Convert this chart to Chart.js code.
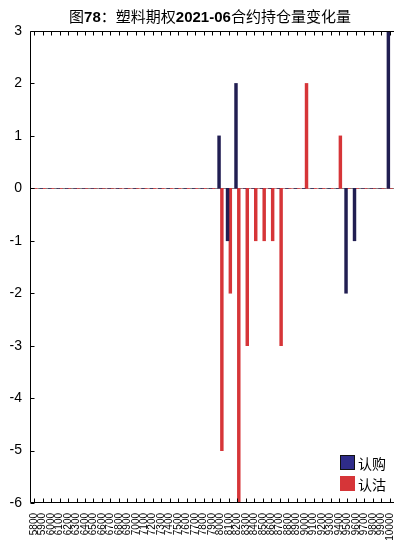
<!DOCTYPE html>
<html>
<head>
<meta charset="utf-8">
<script src="https://cdn.jsdelivr.net/npm/chart.js"></script>
<style>
  body { margin: 0; background: #fff; }
  #wrap { position: relative; width: 396px; height: 540px; }
  #title { position: absolute; left: 12px; top: 6px; width: 396px; text-align: center;
    font: 15px "Noto Sans CJK SC", sans-serif; line-height: 20px; color: #000; }
  #title b { font-family: "Liberation Sans", Arial, sans-serif; font-weight: bold; }
  #legend { position: absolute; left: 340px; top: 455px; font: 14px "Noto Sans CJK SC", sans-serif; color: #000; }
  #legend div { height: 21px; line-height: 16px; }
  #legend span.box { display: inline-block; width: 15px; height: 15px; vertical-align: top; margin-right: 3px; box-sizing: border-box; }
</style>
</head>
<body>
<div id="wrap">
  <canvas id="optChart" width="396" height="540"></canvas>
  <div id="title">图<b>78</b>：塑料期权<b>2021-06</b>合约持仓量变化量</div>
  <div id="legend">
    <div><span class="box" style="background:#2f2c8a;border:1px solid #111;"></span>认购</div>
    <div><span class="box" style="background:#d63538;"></span>认沽</div>
  </div>
</div>
<script>
var strikes = [];
for (var k = 5800; k <= 10000; k += 100) strikes.push(String(k));

// non-zero changes, by strike
var callChange = { '8000': 1, '8100': -1, '8200': 2, '9500': -2, '9600': -1, '10000': 3 };
var putChange = { '8000': -5, '8100': -2, '8200': -6, '8300': -3, '8400': -1, '8500': -1,
                  '8600': -1, '8700': -3, '9000': 2, '9400': 1 };

var callData = strikes.map(function(s){ return callChange[s] || 0; });
var putData = strikes.map(function(s){ return putChange[s] || 0; });

var yTicks = [-6, -5, -4, -3, -2, -1, 0, 1, 2, 3];

var framePlugin = {
  id: 'frame',
  beforeDatasetsDraw: function(chart) {
    var ctx = chart.ctx, a = chart.chartArea, y = chart.scales.y;
    var y0 = Math.round(y.getPixelForValue(0)) + 0.5;
    ctx.save();
    ctx.lineWidth = 1;
    ctx.setLineDash([4, 4]);
    ctx.strokeStyle = '#808080';
    ctx.beginPath(); ctx.moveTo(a.left, y0); ctx.lineTo(a.right, y0); ctx.stroke();
    ctx.lineDashOffset = 4;
    ctx.strokeStyle = '#c98a8a';
    ctx.beginPath(); ctx.moveTo(a.left, y0); ctx.lineTo(a.right, y0); ctx.stroke();
    ctx.restore();
  },
  afterDraw: function(chart) {
    var ctx = chart.ctx, a = chart.chartArea, x = chart.scales.x, y = chart.scales.y;
    var L = Math.round(a.left) + 0.5, T = Math.round(a.top) + 0.5, B = Math.round(a.bottom) - 0.5;
    ctx.save();
    ctx.strokeStyle = '#000';
    ctx.lineWidth = 1;
    ctx.beginPath();
    ctx.moveTo(a.right, T); ctx.lineTo(L, T); ctx.lineTo(L, B); ctx.lineTo(a.right, B);
    yTicks.forEach(function(v){
      var py = Math.round(y.getPixelForValue(v)) + 0.5;
      ctx.moveTo(L, py); ctx.lineTo(L + 4, py);
    });
    strikes.forEach(function(s, i){
      var px = Math.round(x.getPixelForValue(i)) + 0.5;
      ctx.moveTo(px, T); ctx.lineTo(px, T + 4);
      ctx.moveTo(px, B); ctx.lineTo(px, B - 4);
    });
    ctx.stroke();
    ctx.restore();
  }
};

var ctx = document.getElementById('optChart').getContext('2d');
var chart = new Chart(ctx, {
  type: 'bar',
  data: {
    labels: strikes,
    datasets: [
      { label: '认购', data: callData, backgroundColor: '#211e52', barThickness: 2.8 },
      { label: '认沽', data: putData, backgroundColor: '#d63538', barThickness: 2.8 }
    ]
  },
  options: {
    responsive: false,
    animation: false,
    layout: { padding: { top: 31, right: 2, left: 0, bottom: 0 } },
    plugins: { legend: { display: false }, title: { display: false }, tooltip: { enabled: false } },
    scales: {
      x: {
        type: 'category',
        offset: true,
        grid: { display: false, drawTicks: false },
        border: { display: false },
        ticks: {
          autoSkip: false, maxRotation: 90, minRotation: 90, padding: 10,
          color: '#000', font: { family: 'Liberation Sans', size: 10 }
        },
        afterFit: function(s){ s.height = 37; s.paddingLeft = 0; s.paddingRight = 0; }
      },
      y: {
        min: -6, max: 3,
        grid: { display: false, drawTicks: false },
        border: { display: false },
        ticks: {
          stepSize: 1, padding: 8, color: '#000',
          font: { family: 'Liberation Sans', size: 14 }
        },
        afterFit: function(s){ s.width = 30; s.paddingTop = 0; s.paddingBottom = 0; }
      }
    }
  },
  plugins: [framePlugin]
});
</script>
</body>
</html>
